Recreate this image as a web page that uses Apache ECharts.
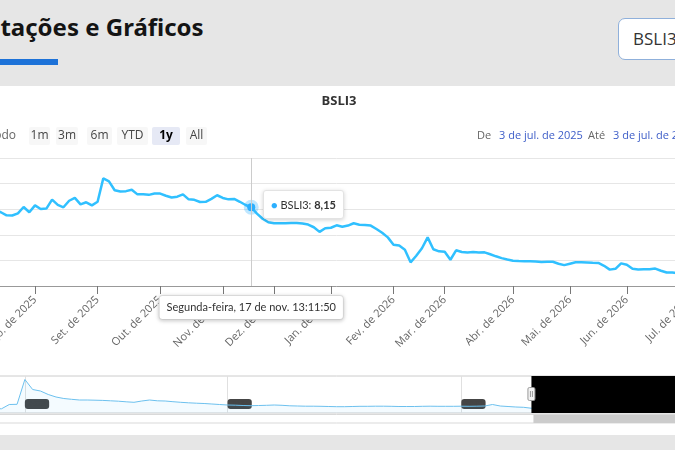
<!DOCTYPE html>
<html lang="pt-BR">
<head>
<meta charset="utf-8">
<title>BSLI3 - Cotações e Gráficos</title>
<script src="https://cdn.jsdelivr.net/npm/echarts@6/dist/echarts.min.js"></script>
<style>
  html, body {
    margin: 0;
    width: 675px;
    height: 450px;
    overflow: hidden;
    background: #e6e6e6;
    font-family: "Open Sans", "Noto Sans", sans-serif;
  }
  .page-title {
    position: absolute;
    left: -30px;
    top: 12px;
    margin: 0;
    font: bold 24px/30px "Noto Sans", sans-serif;
    color: #141414;
    white-space: nowrap;
  }
  .title-bar {
    position: absolute;
    left: -30px;
    top: 59px;
    width: 88px;
    height: 6px;
    background: #1d72d8;
  }
  .ticker-select {
    position: absolute;
    left: 618px;
    top: 18px;
    width: 110px;
    height: 42px;
    box-sizing: border-box;
    border: 1px solid #8fb0db;
    border-radius: 7px;
    background: #fff;
    font-size: 17px;
    line-height: 40px;
    color: #333;
    padding-left: 14px;
  }
  .card {
    position: absolute;
    left: -20px;
    top: 86px;
    width: 740px;
    height: 349px;
    background: #fff;
  }
  #main {
    position: absolute;
    left: -60px;
    top: 0;
    width: 820px;
    height: 450px;
  }
</style>
</head>
<body>
<h2 class="page-title">Cotações e Gráficos</h2>
<div class="title-bar"></div>
<div class="ticker-select">BSLI3</div>
<div class="card"></div>
<div id="main"></div>

<script>
// one sample every second session, grouped by month
const monthLabels = ['Jul. de 2025', 'Ago. de 2025', 'Set. de 2025', 'Out. de 2025', 'Nov. de 2025', 'Dez. de 2025',
  'Jan. de 2026', 'Fev. de 2026', 'Mar. de 2026', 'Abr. de 2026', 'Mai. de 2026', 'Jun. de 2026', 'Jul. de 2026'];
const samplesPerMonth = [10, 11, 11, 11, 9, 10, 11, 9, 12, 10, 10, 11, 2];
const prices = [
  7.76, 7.68, 7.84, 7.91, 7.76, 7.52, 7.51, 7.68, 8.17, 7.76,
  8.30, 8.02, 8.05, 8.75, 8.34, 8.15, 8.66, 8.88, 8.38, 8.54, 8.30,
  8.58, 10.41, 10.18, 9.48, 9.38, 9.41, 9.52, 9.16, 9.16, 9.12, 9.22,
  9.22, 9.05, 8.91, 8.98, 9.16, 8.77, 8.73, 8.56, 8.58, 8.81, 9.09,
  8.88, 8.77, 8.80, 8.58, 8.33, 8.15, 7.65, 7.25, 6.98,
  6.90, 6.90, 6.91, 6.92, 6.92, 6.88, 6.80, 6.59, 6.23, 6.51,
  6.55, 6.74, 6.63, 6.72, 6.90, 6.78, 6.77, 6.72, 6.45, 6.16, 5.80,
  5.23, 5.16, 4.83, 3.85, 4.36, 4.95, 5.80, 4.87, 4.71,
  4.67, 4.05, 4.79, 4.66, 4.62, 4.66, 4.61, 4.63, 4.48, 4.32, 4.18, 4.07,
  3.98, 3.95, 3.93, 3.93, 3.92, 3.88, 3.90, 3.89, 3.74, 3.63,
  3.74, 3.85, 3.85, 3.83, 3.81, 3.80, 3.58, 3.28, 3.34, 3.77,
  3.66, 3.34, 3.29, 3.30, 3.30, 3.36, 3.19, 3.05, 3.05, 2.99, 2.99,
  2.95, 2.95
];
const hoverIndex = 48;
const hoverDate = 'Segunda-feira, 17 de nov. 13:11:50';

// navigator: older history (before the selected year)
const navHistory = [
  8, 8, 7.5, 7.2, 11.5, 11.7, 36.5, 26.5, 25, 21.5,
  19, 17.5, 16.7, 16, 16, 15.8, 15.6, 15.2, 14.8, 14.2,
  13.7, 15, 16, 15.2, 15, 14.3, 13.7, 13.2, 12.8, 12.5,
  12, 11.5, 11, 10.8, 10.5, 10.3, 10.5, 10.7, 11, 10.7,
  10.2, 10, 9.8, 9.8, 9.7, 9.5, 9.3, 9.3, 9.5, 9.7,
  9.7, 9.8, 9.8, 9.7, 9.5, 9.5, 9.5, 9.7, 9.8, 9.7,
  9.7, 9.7, 9.8, 9.7, 9.8, 10, 11.5, 10, 9.5, 9,
  8.7
];
const navYears = ['2023', '2024', '2025'];
const navYearIndex = [6, 32, 62];

const rangeButtons = ['1m', '3m', '6m', 'YTD', '1y', 'All'];
const selectedRange = '1y';
const rangeFrom = '3 de jul. de 2025';
const rangeTo = '3 de jul. de 2026';

// categories: one per sample, month ticks on the first sample of each month
const categories = [];
const monthStarts = new Set();
samplesPerMonth.forEach((n, m) => {
  for (let k = 0; k < n; k++) {
    if (k === 0 && m > 0) monthStarts.add(categories.length);
    categories.push(monthLabels[m] + '|' + k);
  }
});

const navData = navHistory.concat(prices.filter((v, i) => i % 6 === 0));
const navCats = navData.map((v, i) => String(i));

const fmt = v => v.toFixed(2).replace('.', ',');
const OFF = 60; // the chart box starts 60px left of the page

var chart = echarts.init(document.getElementById('main'));

// header texts and range selector buttons
const btnX = [29, 56, 87, 117, 152, 186];
const btnW = [21, 22, 25, 31, 28, 21];
const header = [
  { type: 'text', x: 339 + OFF, y: 101, style: { text: 'BSLI3', font: 'bold 13px "Open Sans"', fill: '#333', textAlign: 'center', textVerticalAlign: 'middle' } },
  { type: 'text', x: 16 + OFF, y: 136, style: { text: 'Período', font: '12px "Open Sans"', fill: '#666', textAlign: 'right', textVerticalAlign: 'middle' } },
  { type: 'text', x: 477 + OFF, y: 136, style: { text: 'De', font: '11px "Open Sans"', fill: '#666', textVerticalAlign: 'middle' } },
  { type: 'text', x: 499 + OFF, y: 136, style: { text: rangeFrom, font: '11px "Open Sans"', fill: '#3d5dc8', textVerticalAlign: 'middle' } },
  { type: 'text', x: 588 + OFF, y: 136, style: { text: 'Até', font: '11px "Open Sans"', fill: '#666', textVerticalAlign: 'middle' } },
  { type: 'text', x: 613 + OFF, y: 136, style: { text: rangeTo, font: '11px "Open Sans"', fill: '#3d5dc8', textVerticalAlign: 'middle' } }
];
rangeButtons.forEach((b, i) => {
  const sel = b === selectedRange;
  header.push({
    type: 'rect', shape: { x: btnX[i] + OFF, y: 127, width: btnW[i], height: 18, r: 2 },
    style: { fill: sel ? '#e6e9f5' : '#f7f7f7' }
  });
  header.push({
    type: 'text', x: btnX[i] + OFF + btnW[i] / 2, y: 136,
    style: { text: b, font: (sel ? 'bold ' : '') + '12px "Open Sans"', fill: sel ? '#000' : '#444', textAlign: 'center', textVerticalAlign: 'middle' }
  });
});

chart.setOption({
  animation: false,
  textStyle: { fontFamily: 'Open Sans' },
  graphic: header,
  grid: [
    { left: 38.1, right: 64.9, top: 158, height: 128 },
    { left: 38.1, right: 64.9, top: 376, height: 37, show: true, borderColor: '#cccccc', borderWidth: 1 }
  ],
  tooltip: {
    trigger: 'axis',
    triggerOn: 'none',
    alwaysShowContent: true,
    showDelay: 0,
    transitionDuration: 0,
    backgroundColor: '#fff',
    borderColor: '#e3e3e3',
    borderWidth: 1,
    borderRadius: 3,
    padding: [5, 7],
    textStyle: { color: '#333', fontSize: 11, fontFamily: 'Lato' },
    extraCssText: 'box-shadow: 0 1px 4px rgba(0,0,0,0.18);',
    axisPointer: { type: 'line', animation: false, lineStyle: { color: '#cccccc', width: 1, type: 'solid' } },
    position: (pt, params, dom, rect, size) => [pt[0] + 12, pt[1] - size.contentSize[1] / 2 - 3],
    formatter: params => {
      const p = params[0];
      return '<span style="color:' + p.color + '">\u25CF</span> ' + p.seriesName + ': <b>' + fmt(p.value) + '</b>';
    }
  },
  xAxis: [
    {
      type: 'category',
      gridIndex: 0,
      data: categories,
      boundaryGap: false,
      axisLine: { lineStyle: { color: '#999' } },
      axisTick: { length: 8, interval: i => monthStarts.has(i), lineStyle: { color: '#777' } },
      axisLabel: {
        interval: i => monthStarts.has(i),
        formatter: v => v.split('|')[0],
        rotate: 45,
        margin: 12,
        color: '#666',
        fontSize: 11
      },
      splitLine: { show: false },
      axisPointer: {
        label: {
          show: true,
          formatter: () => hoverDate,
          backgroundColor: '#fff',
          color: '#333',
          fontFamily: 'Lato',
          fontSize: 11,
          padding: [6, 7],
          borderColor: '#e3e3e3',
          borderWidth: 1,
          shadowBlur: 4,
          shadowOffsetY: 1,
          shadowColor: 'rgba(0,0,0,0.18)',
          margin: 10
        }
      }
    },
    {
      type: 'category',
      gridIndex: 1,
      data: navCats,
      boundaryGap: false,
      axisLine: { show: false },
      axisTick: { show: false },
      splitLine: { show: true, interval: i => navYearIndex.includes(i), lineStyle: { color: '#e0e0e0' } },
      axisLabel: {
        inside: true,
        interval: i => navYearIndex.includes(i),
        formatter: (v, i) => navYears[navYearIndex.indexOf(i)],
        align: 'left',
        color: '#454545',
        backgroundColor: '#454545',
        borderRadius: 3,
        padding: [1, 3],
        fontSize: 8,
        margin: 4
      },
      axisPointer: { show: false }
    }
  ],
  yAxis: [
    {
      type: 'value',
      gridIndex: 0,
      position: 'right',
      min: 2,
      max: 12,
      interval: 2,
      axisLine: { show: false },
      axisTick: { show: false },
      splitLine: { lineStyle: { color: '#e6e6e6' } },
      axisLabel: { color: '#666', fontSize: 11 }
    },
    { type: 'value', gridIndex: 1, min: 3, max: 40, show: false }
  ],
  series: [
    {
      name: 'BSLI3',
      type: 'line',
      data: prices,
      showSymbol: false,
      symbol: 'circle',
      symbolSize: 8,
      lineStyle: { color: '#2caffe', width: 2.5 },
      itemStyle: { color: '#2caffe' },
      emphasis: { scale: false, itemStyle: { borderColor: 'rgba(44,175,254,0.3)', borderWidth: 7 } }
    },
    {
      name: 'navigator',
      type: 'line',
      xAxisIndex: 1,
      yAxisIndex: 1,
      data: navData,
      silent: true,
      showSymbol: false,
      lineStyle: { color: '#6cc0ee', width: 1 },
      areaStyle: { color: 'rgba(44,175,254,0.07)' },
      markArea: {
        silent: true,
        z: 5,
        itemStyle: { color: '#000' },
        data: [[{ xAxis: navCats[navHistory.length] }, { xAxis: navCats[navCats.length - 1] }]]
      }
    }
  ]
});

// navigator handle and scrollbar, placed from the navigator axis
const bx = chart.convertToPixel({ xAxisIndex: 1 }, navCats[navHistory.length]);
const nx0 = chart.convertToPixel({ xAxisIndex: 1 }, navCats[0]);
const nx1 = chart.convertToPixel({ xAxisIndex: 1 }, navCats[navCats.length - 1]);
const navParts = [
  { type: 'rect', z: 100, shape: { x: nx0, y: 414.5, width: nx1 - nx0, height: 8.5 }, style: { fill: '#fff', stroke: '#d9d9d9', lineWidth: 1 } },
  { type: 'rect', z: 101, shape: { x: bx + 2, y: 415, width: nx1 - bx - 2, height: 8 }, style: { fill: '#cccccc' } },
  { type: 'rect', z: 102, shape: { x: bx - 3.5, y: 387.5, width: 7, height: 13, r: 1.5 }, style: { fill: '#f2f2f2', stroke: '#999', lineWidth: 1 } },
  { type: 'line', z: 103, shape: { x1: bx - 1, y1: 391, x2: bx - 1, y2: 397 }, style: { stroke: '#999', lineWidth: 1 } },
  { type: 'line', z: 103, shape: { x1: bx + 1, y1: 391, x2: bx + 1, y2: 397 }, style: { stroke: '#999', lineWidth: 1 } }
];
chart.setOption({ graphic: header.concat(navParts) });

chart.dispatchAction({ type: 'showTip', seriesIndex: 0, dataIndex: hoverIndex });
</script>
</body>
</html>
